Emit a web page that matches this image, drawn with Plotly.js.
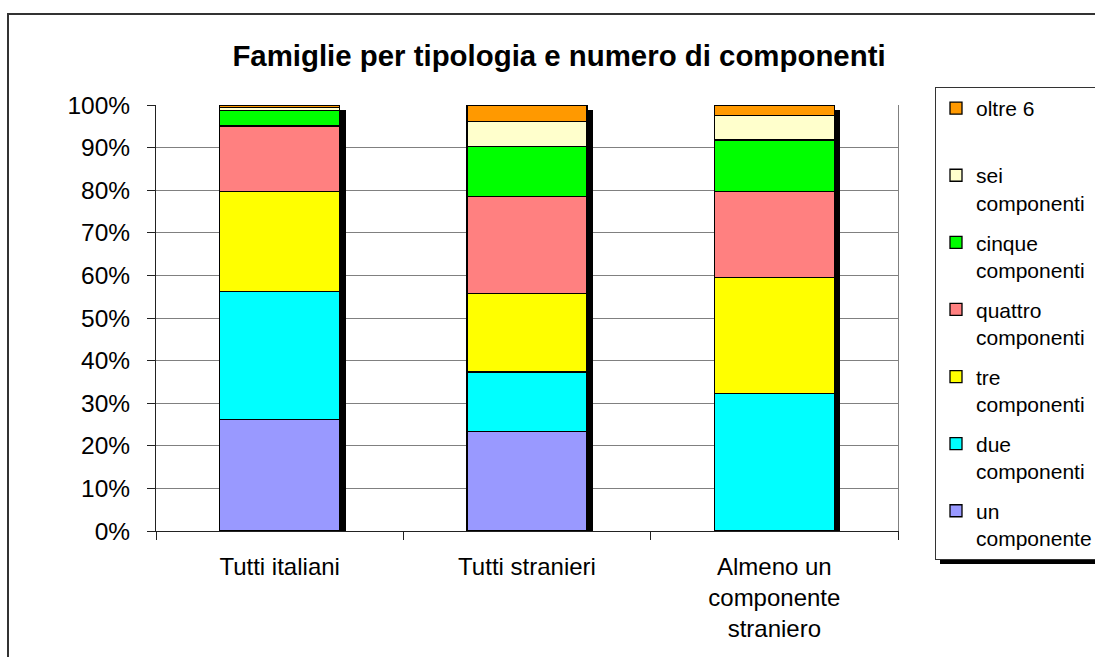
<!DOCTYPE html>
<html>
<head>
<meta charset="utf-8">
<script src="https://cdn.plot.ly/plotly-3.0.1.min.js"></script>
<style>html,body{margin:0;padding:0;background:#fff;}#chart{width:1095px;height:657px;}</style>
</head>
<body>
<div id="chart"></div>
<script>
const categories = ["Tutti italiani", "Tutti stranieri", "Almeno un<br>componente<br>straniero"];
const seriesNames = ["un<br>componente", "due<br>componenti", "tre<br>componenti", "quattro<br>componenti", "cinque<br>componenti", "sei<br>componenti", "oltre 6<br>\u00a0"];
const unComponente = [26.1, 23.3, 0];
const dueComponenti = [30.1, 14.0, 32.2];
const treComponenti = [23.5, 18.4, 27.3];
const quattroComponenti = [15.4, 22.9, 20.2];
const cinqueComponenti = [3.6, 11.7, 12.1];
const seiComponenti = [0.7, 5.8, 5.7];
const oltre6 = [0.6, 3.9, 2.5];
const totals = [100, 100, 100];
const seriesColors = ["#9999FF", "#00FFFF", "#FFFF00", "#FF8080", "#00FF00", "#FFFFCC", "#FF9900"];

const W = 1095, H = 657;
const M = {l: 156, r: 197, t: 105, b: 126, autoexpand: false};
const PW = W - M.l - M.r, PH = H - M.t - M.b;
const px2x = p => (p - M.l) / PW;
const px2y = p => (H - M.b - p) / PH;

const barWidth = 0.485;
const catPx = PW / categories.length;
const shadowDx = 6 / catPx;
const shadowDy = 5 / PH * 100;
const font = "Liberation Sans, Arial, sans-serif";

const values = [unComponente, dueComponenti, treComponenti, quattroComponenti, cinqueComponenti, seiComponenti, oltre6];

const traces = [{
  type: "bar", x: categories, y: totals.map(t => t - shadowDy), base: 0,
  width: barWidth, offset: -barWidth / 2 + shadowDx,
  marker: {color: "#000000", line: {width: 0}},
  showlegend: false, hoverinfo: "skip", xaxis: "x", yaxis: "y"
}];
values.forEach((v, i) => {
  traces.push({
    type: "bar", name: seriesNames[i], x: categories, y: v,
    width: barWidth, legendgroup: "g" + i, legendrank: values.length - i,
    marker: {color: seriesColors[i], line: {color: "#000000", width: 1.3}},
    xaxis: "x", yaxis: "y2"
  });
});

const layout = {
  width: W, height: H, margin: M,
  paper_bgcolor: "#ffffff", plot_bgcolor: "#ffffff",
  barmode: "stack",
  font: {family: font, color: "#000000", size: 24},
  title: {text: "<b>Famiglie per tipologia e numero di componenti</b>",
    font: {family: font, size: 29.4, color: "#000000"},
    xref: "container", yref: "container", x: 559 / W, xanchor: "center",
    y: 1 - 56 / H, yanchor: "middle"},
  xaxis: {type: "category", range: [-0.5, 2.5], showline: true, linecolor: "#222222", linewidth: 1,
    ticks: "outside", tickson: "boundaries", ticklen: 8, tickcolor: "#222222",
    tickfont: {size: 24}, ticklabelstandoff: 14, showgrid: false, zeroline: false, fixedrange: true},
  yaxis: {range: [0, 100], dtick: 10, ticksuffix: "%", showline: true, linecolor: "#222222",
    ticks: "outside", ticklen: 8, tickcolor: "#222222", tickfont: {size: 24.5},
    ticklabelstandoff: 12,
    showgrid: true, gridcolor: "#808080", gridwidth: 1, zeroline: false, fixedrange: true},
  yaxis2: {range: [0, 100], overlaying: "y", side: "right", showline: true, linecolor: "#808080",
    showgrid: false, showticklabels: false, ticks: "", zeroline: false, fixedrange: true},
  legend: {x: px2x(935), y: px2y(87), xanchor: "left", yanchor: "top",
    bgcolor: "#ffffff", bordercolor: "#333333", borderwidth: 1, maxheight: 640,
    font: {family: font, size: 21, color: "#000000"},
    valign: "top", traceorder: "grouped", tracegroupgap: 9.5},
  shapes: [
    {type: "rect", xref: "paper", yref: "paper", x0: px2x(8), y0: px2y(700), x1: px2x(1110), y1: px2y(14),
      line: {color: "#333333", width: 2}, fillcolor: "rgba(0,0,0,0)", layer: "below"},
    {type: "rect", xref: "paper", yref: "paper", x0: px2x(940), y0: px2y(564), x1: px2x(1110), y1: px2y(558),
      line: {width: 0}, fillcolor: "#000000", layer: "below"}
  ],
  showlegend: true
};

Plotly.newPlot("chart", traces, layout, {displayModeBar: false, staticPlot: true});
</script>
</body>
</html>
